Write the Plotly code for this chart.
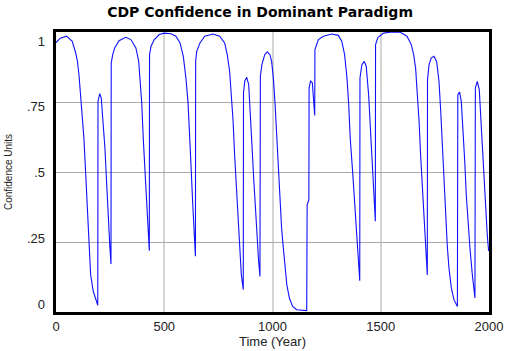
import plotly.graph_objects as go

# Time (Year) and Confidence values
time_years = [0, 20, 49, 75, 91, 99, 106, 117, 129, 137, 145, 152, 160, 172, 183, 193,
              194, 202, 209, 218, 226, 232, 237, 245, 249, 254,
              255, 262, 271, 291, 322, 346, 369, 382, 388, 396, 403, 411, 419, 425, 431,
              432, 439, 454, 477, 500, 531, 554, 573, 588, 600, 610, 619, 625, 631, 637, 642, 644,
              645, 650, 665, 687, 725, 756, 779, 791, 802, 810, 818, 825, 833, 841, 848, 856, 865,
              866, 872, 881, 890, 898, 905, 913, 921, 928, 936, 942,
              944, 951, 964, 976, 988, 996, 1004, 1012, 1019, 1027, 1035, 1042, 1050, 1058, 1066,
              1078, 1093, 1112, 1158,
              1160, 1168, 1169, 1176, 1184, 1192, 1195,
              1196, 1212, 1235, 1273, 1304, 1320, 1333, 1344, 1352, 1359, 1370, 1380, 1387, 1395, 1403,
              1404, 1413, 1424, 1433, 1444, 1452, 1460, 1467, 1472, 1475,
              1476, 1487, 1513, 1552, 1590, 1621, 1641, 1652, 1661, 1669, 1677, 1684, 1692, 1700, 1707, 1715,
              1716, 1723, 1733, 1746, 1758, 1769, 1777, 1784, 1792, 1800, 1807, 1815, 1826, 1838, 1854,
              1856, 1864, 1872, 1880, 1888, 1895, 1903, 1912, 1923, 1935,
              1937, 1946, 1955, 1961, 1969, 1977, 1985, 1992, 1998, 2000]
confidence = [0.962, 0.978, 0.985, 0.967, 0.925, 0.895, 0.848, 0.746, 0.621, 0.496, 0.348, 0.229, 0.133, 0.074, 0.044, 0.024,
              0.752, 0.780, 0.764, 0.682, 0.586, 0.490, 0.396, 0.300, 0.229, 0.171,
              0.889, 0.919, 0.943, 0.969, 0.981, 0.973, 0.943, 0.895, 0.836, 0.746, 0.621, 0.502, 0.395, 0.300, 0.219,
              0.919, 0.949, 0.973, 0.991, 0.996, 0.994, 0.985, 0.961, 0.913, 0.836, 0.746, 0.621, 0.500, 0.395, 0.312, 0.252, 0.199,
              0.895, 0.931, 0.961, 0.985, 0.993, 0.985, 0.961, 0.919, 0.860, 0.776, 0.681, 0.562, 0.443, 0.324, 0.217, 0.133, 0.080,
              0.782, 0.825, 0.838, 0.812, 0.717, 0.598, 0.479, 0.360, 0.252, 0.181, 0.127,
              0.842, 0.883, 0.919, 0.929, 0.919, 0.895, 0.836, 0.741, 0.633, 0.502, 0.383, 0.300, 0.229, 0.157, 0.098,
              0.050, 0.020, 0.008, 0.005,
              0.383, 0.400, 0.800, 0.826, 0.818, 0.752, 0.702,
              0.937, 0.973, 0.985, 0.993, 0.988, 0.967, 0.919, 0.836, 0.741, 0.621, 0.502, 0.383, 0.264, 0.181, 0.112,
              0.836, 0.883, 0.895, 0.877, 0.776, 0.657, 0.550, 0.455, 0.371, 0.324,
              0.955, 0.981, 0.996, 1.000, 0.999, 0.985, 0.955, 0.919, 0.871, 0.788, 0.681, 0.562, 0.455, 0.348, 0.252, 0.132,
              0.830, 0.883, 0.907, 0.913, 0.895, 0.824, 0.717, 0.598, 0.467, 0.336, 0.240, 0.157, 0.086, 0.044, 0.020,
              0.776, 0.786, 0.752, 0.657, 0.538, 0.419, 0.324, 0.229, 0.133, 0.050,
              0.800, 0.824, 0.794, 0.705, 0.598, 0.490, 0.383, 0.276, 0.220, 0.220]

x_ticks = [0, 500, 1000, 1500, 2000]
x_tick_labels = ["0", "500", "1000", "1500", "2000"]
y_ticks = [0, 0.25, 0.5, 0.75, 1]
y_tick_labels = ["0", ".25", ".5", ".75", "1"]

font_family = "Liberation Sans, Arial, sans-serif"

fig = go.Figure()
fig.add_trace(go.Scatter(x=time_years, y=confidence, mode="lines",
                         line=dict(color="#1010ff", width=1.1), showlegend=False,
                         hoverinfo="skip"))
# empty trace so the label axis is drawn
fig.add_trace(go.Scatter(x=[], y=[], yaxis="y2", showlegend=False, hoverinfo="skip"))

fig.update_layout(
    width=512, height=351,
    margin=dict(l=56, r=23, t=32, b=39),
    paper_bgcolor="white", plot_bgcolor="white",
    font=dict(family=font_family, color="#222222"),
    title=dict(text="<b>CDP Confidence in Dominant Paradigm</b>",
               font=dict(size=14, color="#000000", family="DejaVu Sans, Verdana, sans-serif"),
               x=0.508, xanchor="center", y=1 - 12 / 351, yanchor="middle", yref="container"),
    xaxis=dict(range=[0, 2000], tickvals=x_ticks, ticktext=x_tick_labels,
               showgrid=True, gridcolor="#d4d4d4", gridwidth=2,
               showline=True, linecolor="black", linewidth=3, mirror=True,
               ticks="", zeroline=False, tickfont=dict(size=13),
               title=dict(text="Time (Year)", font=dict(size=13), standoff=2),
               automargin=False),
    yaxis=dict(range=[0, 1], tickvals=y_ticks, showticklabels=False,
               showgrid=True, gridcolor="#ababab", gridwidth=1,
               showline=True, linecolor="black", linewidth=3, mirror=True,
               ticks="", zeroline=False, automargin=False),
    yaxis2=dict(overlaying="y", side="left", range=[-0.0304, 1.0342],
                tickvals=y_ticks, ticktext=y_tick_labels, showgrid=False,
                zeroline=False, showline=False, ticks="", ticklabelstandoff=10,
                tickfont=dict(size=13),
                title=dict(text="Confidence Units", font=dict(size=10), standoff=12),
                automargin=False),
)

fig.write_html("out.html")
